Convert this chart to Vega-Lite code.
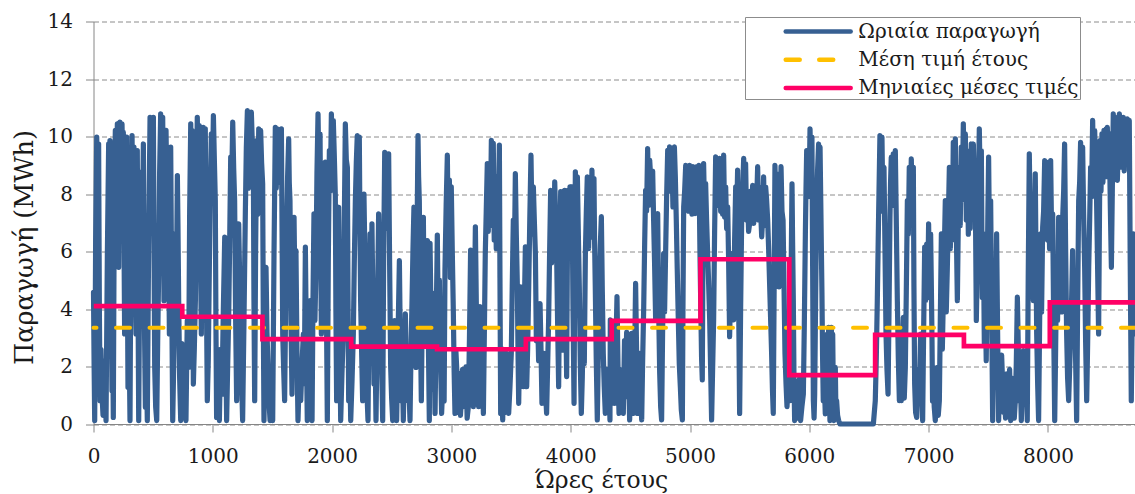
{
  "$schema": "https://vega.github.io/schema/vega-lite/v6.json",
  "width": 1041.5,
  "height": 402.5,
  "autosize": {"type": "none"},
  "padding": {"left": 93.5, "top": 21.5, "right": 0, "bottom": 70},
  "background": "white",
  "config": {
    "view": {"stroke": null},
    "font": "DejaVu Serif",
    "axis": {
      "labelFont": "DejaVu Serif", "labelFontSize": 20, "labelColor": "#1a1a1a",
      "titleFont": "DejaVu Serif", "titleFontWeight": "normal", "titleColor": "#1a1a1a",
      "domainColor": "#868686", "tickColor": "#868686", "tickSize": 8, "domainWidth": 1, "tickWidth": 1,
      "labelFlush": false, "labelOverlap": false
    }
  },
  "datasets": {
    "hourly": [
      {"hour":0,"mwh":4.58},{"hour":5,"mwh":2.1},{"hour":10,"mwh":0.12},{"hour":18,"mwh":6.4},{"hour":27,"mwh":9.98},{"hour":35,"mwh":7.2},{"hour":43,"mwh":9.74},{"hour":49,"mwh":4.1},{"hour":55,"mwh":0.81},{"hour":63,"mwh":2.6},
      {"hour":71,"mwh":1.04},{"hour":80,"mwh":0.3},{"hour":88,"mwh":0.81},{"hour":96,"mwh":2.2},{"hour":105,"mwh":0.12},{"hour":116,"mwh":5.8},{"hour":127,"mwh":9.74},{"hour":132,"mwh":7.9},{"hour":138,"mwh":9.86},{"hour":146,"mwh":6.1},
      {"hour":155,"mwh":1.16},{"hour":160,"mwh":3.4},{"hour":166,"mwh":0.23},{"hour":174,"mwh":7.6},{"hour":183,"mwh":10.21},{"hour":191,"mwh":8.4},{"hour":200,"mwh":10.44},{"hour":211,"mwh":5.45},{"hour":216,"mwh":9.1},{"hour":222,"mwh":10.5},
      {"hour":230,"mwh":8.2},{"hour":239,"mwh":10.44},{"hour":244,"mwh":9.3},{"hour":250,"mwh":10.15},{"hour":255,"mwh":6.8},{"hour":261,"mwh":3.13},{"hour":270,"mwh":7.9},{"hour":278,"mwh":9.98},{"hour":284,"mwh":5.2},{"hour":289,"mwh":1.28},
      {"hour":297,"mwh":3.5},{"hour":306,"mwh":0.12},{"hour":314,"mwh":6.9},{"hour":323,"mwh":10.03},{"hour":331,"mwh":7.1},{"hour":339,"mwh":9.63},{"hour":347,"mwh":5.9},{"hour":356,"mwh":3.13},{"hour":361,"mwh":6.8},{"hour":367,"mwh":9.51},
      {"hour":373,"mwh":4.6},{"hour":379,"mwh":0.12},{"hour":387,"mwh":5.4},{"hour":395,"mwh":8.76},{"hour":401,"mwh":6.9},{"hour":407,"mwh":4.29},{"hour":412,"mwh":7.5},{"hour":418,"mwh":9.74},{"hour":426,"mwh":3.9},{"hour":435,"mwh":0.58},
      {"hour":443,"mwh":2.4},{"hour":451,"mwh":0.12},{"hour":462,"mwh":6.2},{"hour":474,"mwh":10.67},{"hour":482,"mwh":8.1},{"hour":490,"mwh":10.61},{"hour":496,"mwh":7.4},{"hour":502,"mwh":10.67},{"hour":507,"mwh":6.3},{"hour":513,"mwh":1.97},
      {"hour":521,"mwh":0.6},{"hour":530,"mwh":0.12},{"hour":538,"mwh":2.9},{"hour":546,"mwh":5.22},{"hour":554,"mwh":8.7},{"hour":563,"mwh":10.79},{"hour":571,"mwh":8.6},{"hour":580,"mwh":10.67},{"hour":585,"mwh":7.9},{"hour":591,"mwh":4.29},
      {"hour":599,"mwh":7.2},{"hour":608,"mwh":10.21},{"hour":616,"mwh":7.6},{"hour":625,"mwh":9.51},{"hour":630,"mwh":6.4},{"hour":636,"mwh":3.13},{"hour":641,"mwh":6.7},{"hour":647,"mwh":9.63},{"hour":655,"mwh":4.8},{"hour":664,"mwh":0.12},
      {"hour":675,"mwh":2.7},{"hour":686,"mwh":6.61},{"hour":694,"mwh":4.2},{"hour":703,"mwh":8.64},{"hour":708,"mwh":6.9},{"hour":714,"mwh":4.29},{"hour":722,"mwh":1.6},{"hour":731,"mwh":0.12},{"hour":742,"mwh":2.8},{"hour":753,"mwh":1.04},
      {"hour":764,"mwh":2.3},{"hour":775,"mwh":0.12},{"hour":786,"mwh":3.6},{"hour":798,"mwh":1.97},{"hour":806,"mwh":7.4},{"hour":815,"mwh":10.44},{"hour":820,"mwh":8.1},{"hour":826,"mwh":10.21},{"hour":831,"mwh":6.2},{"hour":837,"mwh":1.39},
      {"hour":845,"mwh":2.6},{"hour":854,"mwh":4.29},{"hour":862,"mwh":7.8},{"hour":870,"mwh":10.67},{"hour":878,"mwh":8.6},{"hour":887,"mwh":10.38},{"hour":895,"mwh":6.5},{"hour":904,"mwh":3.13},{"hour":912,"mwh":7.7},{"hour":921,"mwh":10.32},
      {"hour":929,"mwh":7.9},{"hour":937,"mwh":10.27},{"hour":945,"mwh":5.2},{"hour":954,"mwh":0.81},{"hour":962,"mwh":2.2},{"hour":971,"mwh":5.45},{"hour":979,"mwh":8.1},{"hour":988,"mwh":10.09},{"hour":996,"mwh":8.3},{"hour":1005,"mwh":10.73},
      {"hour":1013,"mwh":9.2},{"hour":1021,"mwh":7.77},{"hour":1026,"mwh":3.6},{"hour":1032,"mwh":0.23},{"hour":1043,"mwh":2.1},{"hour":1055,"mwh":0.12},{"hour":1066,"mwh":2.6},{"hour":1077,"mwh":1.04},{"hour":1088,"mwh":3.9},{"hour":1100,"mwh":6.5},
      {"hour":1108,"mwh":2.8},{"hour":1116,"mwh":0.12},{"hour":1124,"mwh":1.9},{"hour":1133,"mwh":3.71},{"hour":1141,"mwh":6.2},{"hour":1150,"mwh":9.28},{"hour":1158,"mwh":8.3},{"hour":1167,"mwh":10.5},{"hour":1175,"mwh":8.9},{"hour":1183,"mwh":7.77},
      {"hour":1191,"mwh":3.8},{"hour":1200,"mwh":0.81},{"hour":1208,"mwh":3.2},{"hour":1217,"mwh":6.96},{"hour":1225,"mwh":5.1},{"hour":1234,"mwh":3.13},{"hour":1242,"mwh":1.4},{"hour":1250,"mwh":0.12},{"hour":1261,"mwh":3.5},{"hour":1273,"mwh":7.42},
      {"hour":1281,"mwh":9.6},{"hour":1290,"mwh":10.9},{"hour":1298,"mwh":8.2},{"hour":1306,"mwh":10.79},{"hour":1314,"mwh":8.7},{"hour":1323,"mwh":10.85},{"hour":1331,"mwh":9.8},{"hour":1340,"mwh":8.93},{"hour":1345,"mwh":4.3},{"hour":1351,"mwh":0.81},
      {"hour":1359,"mwh":6.1},{"hour":1368,"mwh":9.86},{"hour":1376,"mwh":7.3},{"hour":1385,"mwh":10.27},{"hour":1393,"mwh":8.5},{"hour":1401,"mwh":10.21},{"hour":1409,"mwh":9.1},{"hour":1418,"mwh":8.35},{"hour":1423,"mwh":3.9},{"hour":1429,"mwh":0.12},
      {"hour":1437,"mwh":2.3},{"hour":1446,"mwh":5.45},{"hour":1454,"mwh":3.2},{"hour":1463,"mwh":1.97},{"hour":1471,"mwh":0.8},{"hour":1480,"mwh":0.12},{"hour":1491,"mwh":1.6},{"hour":1502,"mwh":0.12},{"hour":1513,"mwh":5.9},{"hour":1524,"mwh":10.32},
      {"hour":1532,"mwh":8.2},{"hour":1541,"mwh":10.27},{"hour":1549,"mwh":8.8},{"hour":1558,"mwh":10.15},{"hour":1566,"mwh":8.4},{"hour":1575,"mwh":10.27},{"hour":1580,"mwh":7.1},{"hour":1586,"mwh":3.13},{"hour":1594,"mwh":1.9},{"hour":1602,"mwh":0.81},
      {"hour":1610,"mwh":3.9},{"hour":1619,"mwh":6.61},{"hour":1627,"mwh":8.6},{"hour":1636,"mwh":9.92},{"hour":1641,"mwh":8.4},{"hour":1647,"mwh":7.77},{"hour":1655,"mwh":3.6},{"hour":1664,"mwh":1.04},{"hour":1672,"mwh":4.6},{"hour":1681,"mwh":7.19},
      {"hour":1689,"mwh":4.4},{"hour":1697,"mwh":6.03},{"hour":1705,"mwh":2.7},{"hour":1714,"mwh":0.12},{"hour":1725,"mwh":1.7},{"hour":1737,"mwh":0.81},{"hour":1748,"mwh":2.1},{"hour":1759,"mwh":3.13},{"hour":1767,"mwh":1.4},{"hour":1776,"mwh":6.15},
      {"hour":1784,"mwh":2.9},{"hour":1792,"mwh":0.12},{"hour":1803,"mwh":2.6},{"hour":1815,"mwh":4.29},{"hour":1823,"mwh":1.8},{"hour":1832,"mwh":0.12},{"hour":1840,"mwh":4.4},{"hour":1848,"mwh":7.31},{"hour":1856,"mwh":3.6},{"hour":1865,"mwh":5.45},
      {"hour":1873,"mwh":8.7},{"hour":1882,"mwh":10.79},{"hour":1890,"mwh":8.6},{"hour":1899,"mwh":10.09},{"hour":1904,"mwh":6.6},{"hour":1910,"mwh":3.13},{"hour":1918,"mwh":5.2},{"hour":1927,"mwh":7.77},{"hour":1935,"mwh":5.9},{"hour":1943,"mwh":9.11},
      {"hour":1951,"mwh":4.8},{"hour":1960,"mwh":0.12},{"hour":1968,"mwh":5.6},{"hour":1977,"mwh":9.51},{"hour":1985,"mwh":8.1},{"hour":1994,"mwh":10.79},{"hour":2002,"mwh":8.9},{"hour":2010,"mwh":10.56},{"hour":2018,"mwh":9.4},{"hour":2027,"mwh":7.95},
      {"hour":2032,"mwh":3.9},{"hour":2038,"mwh":0.81},{"hour":2046,"mwh":4.1},{"hour":2055,"mwh":7.54},{"hour":2063,"mwh":3.6},{"hour":2072,"mwh":0.12},{"hour":2083,"mwh":1.8},{"hour":2094,"mwh":3.13},{"hour":2102,"mwh":6.9},{"hour":2111,"mwh":10.44},
      {"hour":2119,"mwh":9.2},{"hour":2128,"mwh":8.93},{"hour":2133,"mwh":4.6},{"hour":2139,"mwh":0.81},{"hour":2147,"mwh":2.5},{"hour":2156,"mwh":0.12},{"hour":2167,"mwh":1.5},{"hour":2178,"mwh":3.13},{"hour":2186,"mwh":5.6},{"hour":2195,"mwh":7.77},
      {"hour":2203,"mwh":9.1},{"hour":2211,"mwh":10.03},{"hour":2219,"mwh":7.6},{"hour":2228,"mwh":9.98},{"hour":2233,"mwh":7.1},{"hour":2239,"mwh":4.29},{"hour":2247,"mwh":2.6},{"hour":2256,"mwh":0.81},{"hour":2261,"mwh":4.9},{"hour":2267,"mwh":8.0},
      {"hour":2275,"mwh":5.8},{"hour":2284,"mwh":2.55},{"hour":2292,"mwh":1.1},{"hour":2301,"mwh":0.12},{"hour":2309,"mwh":3.8},{"hour":2318,"mwh":6.61},{"hour":2326,"mwh":3.9},{"hour":2334,"mwh":6.96},{"hour":2342,"mwh":4.2},{"hour":2351,"mwh":1.39},
      {"hour":2359,"mwh":2.9},{"hour":2368,"mwh":0.12},{"hour":2379,"mwh":3.7},{"hour":2390,"mwh":7.31},{"hour":2398,"mwh":5.6},{"hour":2407,"mwh":4.29},{"hour":2415,"mwh":2.1},{"hour":2424,"mwh":0.12},{"hour":2432,"mwh":5.7},{"hour":2441,"mwh":9.45},
      {"hour":2449,"mwh":6.8},{"hour":2457,"mwh":9.28},{"hour":2465,"mwh":7.2},{"hour":2474,"mwh":9.4},{"hour":2482,"mwh":5.6},{"hour":2491,"mwh":1.97},{"hour":2499,"mwh":0.9},{"hour":2508,"mwh":0.12},{"hour":2516,"mwh":1.9},{"hour":2524,"mwh":3.6},
      {"hour":2532,"mwh":1.4},{"hour":2541,"mwh":0.12},{"hour":2552,"mwh":2.9},{"hour":2564,"mwh":5.68},{"hour":2572,"mwh":2.7},{"hour":2580,"mwh":0.81},{"hour":2588,"mwh":2.2},{"hour":2597,"mwh":0.12},{"hour":2605,"mwh":1.8},{"hour":2614,"mwh":3.83},
      {"hour":2622,"mwh":2.1},{"hour":2631,"mwh":0.81},{"hour":2642,"mwh":1.5},{"hour":2653,"mwh":0.12},{"hour":2661,"mwh":2.4},{"hour":2670,"mwh":4.29},{"hour":2678,"mwh":6.1},{"hour":2686,"mwh":7.54},{"hour":2694,"mwh":4.4},{"hour":2703,"mwh":1.97},
      {"hour":2711,"mwh":6.2},{"hour":2720,"mwh":10.03},{"hour":2725,"mwh":8.6},{"hour":2731,"mwh":7.77},{"hour":2739,"mwh":3.8},{"hour":2748,"mwh":0.81},{"hour":2756,"mwh":4.1},{"hour":2765,"mwh":7.19},{"hour":2773,"mwh":3.4},{"hour":2781,"mwh":5.22},
      {"hour":2789,"mwh":2.7},{"hour":2798,"mwh":6.38},{"hour":2806,"mwh":3.2},{"hour":2815,"mwh":0.12},{"hour":2821,"mwh":6.28},{"hour":2828,"mwh":4.1},{"hour":2835,"mwh":2.46},{"hour":2842,"mwh":1.2},{"hour":2849,"mwh":4.54},{"hour":2856,"mwh":2.3},
      {"hour":2863,"mwh":0.37},{"hour":2872,"mwh":3.4},{"hour":2882,"mwh":6.57},{"hour":2890,"mwh":3.3},{"hour":2899,"mwh":5.01},{"hour":2908,"mwh":2.4},{"hour":2918,"mwh":0.37},{"hour":2925,"mwh":1.1},{"hour":2932,"mwh":2.46},{"hour":2939,"mwh":0.8},
      {"hour":2946,"mwh":5.35},{"hour":2956,"mwh":7.6},{"hour":2966,"mwh":9.35},{"hour":2974,"mwh":6.2},{"hour":2983,"mwh":8.48},{"hour":2991,"mwh":5.1},{"hour":2999,"mwh":8.25},{"hour":3007,"mwh":6.1},{"hour":3016,"mwh":3.96},{"hour":3023,"mwh":1.8},
      {"hour":3030,"mwh":0.37},{"hour":3037,"mwh":2.6},{"hour":3044,"mwh":1.99},{"hour":3055,"mwh":0.4},{"hour":3066,"mwh":1.76},{"hour":3076,"mwh":0.3},{"hour":3086,"mwh":1.07},{"hour":3093,"mwh":1.9},{"hour":3100,"mwh":0.6},{"hour":3111,"mwh":1.3},
      {"hour":3122,"mwh":1.99},{"hour":3132,"mwh":0.2},{"hour":3142,"mwh":0.6},{"hour":3151,"mwh":2.9},{"hour":3161,"mwh":6.05},{"hour":3172,"mwh":2.1},{"hour":3184,"mwh":0.6},{"hour":3192,"mwh":3.8},{"hour":3201,"mwh":6.86},{"hour":3209,"mwh":4.1},
      {"hour":3217,"mwh":2.46},{"hour":3228,"mwh":0.6},{"hour":3240,"mwh":4.08},{"hour":3248,"mwh":1.9},{"hour":3256,"mwh":3.85},{"hour":3262,"mwh":1.6},{"hour":3268,"mwh":0.37},{"hour":3276,"mwh":3.1},{"hour":3284,"mwh":5.93},{"hour":3292,"mwh":7.4},
      {"hour":3301,"mwh":9.06},{"hour":3309,"mwh":6.7},{"hour":3318,"mwh":8.6},{"hour":3326,"mwh":6.9},{"hour":3335,"mwh":9.87},{"hour":3343,"mwh":7.8},{"hour":3351,"mwh":9.76},{"hour":3359,"mwh":6.4},{"hour":3368,"mwh":8.25},{"hour":3376,"mwh":6.1},
      {"hour":3385,"mwh":8.6},{"hour":3393,"mwh":7.3},{"hour":3402,"mwh":9.7},{"hour":3407,"mwh":5.1},{"hour":3413,"mwh":0.37},{"hour":3421,"mwh":1.6},{"hour":3430,"mwh":0.14},{"hour":3438,"mwh":2.6},{"hour":3446,"mwh":1.3},{"hour":3454,"mwh":0.4},
      {"hour":3463,"mwh":2.46},{"hour":3471,"mwh":1.4},{"hour":3480,"mwh":0.37},{"hour":3491,"mwh":1.3},{"hour":3502,"mwh":2.46},{"hour":3510,"mwh":4.8},{"hour":3519,"mwh":7.09},{"hour":3527,"mwh":5.4},{"hour":3536,"mwh":8.71},{"hour":3544,"mwh":6.6},
      {"hour":3553,"mwh":4.77},{"hour":3558,"mwh":2.6},{"hour":3564,"mwh":0.72},{"hour":3572,"mwh":2.9},{"hour":3581,"mwh":4.77},{"hour":3592,"mwh":3.1},{"hour":3603,"mwh":1.3},{"hour":3611,"mwh":3.9},{"hour":3620,"mwh":6.16},{"hour":3625,"mwh":3.4},
      {"hour":3631,"mwh":1.3},{"hour":3639,"mwh":2.6},{"hour":3648,"mwh":4.77},{"hour":3657,"mwh":7.1},{"hour":3667,"mwh":9.35},{"hour":3677,"mwh":6.6},{"hour":3687,"mwh":8.25},{"hour":3695,"mwh":7.1},{"hour":3704,"mwh":5.93},{"hour":3712,"mwh":2.9},
      {"hour":3720,"mwh":4.19},{"hour":3731,"mwh":2.2},{"hour":3743,"mwh":4.19},{"hour":3751,"mwh":2.6},{"hour":3759,"mwh":0.72},{"hour":3767,"mwh":1.4},{"hour":3776,"mwh":2.46},{"hour":3787,"mwh":1.3},{"hour":3798,"mwh":0.37},{"hour":3806,"mwh":1.9},
      {"hour":3815,"mwh":3.62},{"hour":3823,"mwh":5.9},{"hour":3832,"mwh":8.13},{"hour":3840,"mwh":5.6},{"hour":3849,"mwh":7.9},{"hour":3857,"mwh":6.1},{"hour":3866,"mwh":8.42},{"hour":3874,"mwh":7.1},{"hour":3882,"mwh":5.93},{"hour":3890,"mwh":3.6},
      {"hour":3899,"mwh":1.3},{"hour":3907,"mwh":5.2},{"hour":3916,"mwh":8.08},{"hour":3924,"mwh":5.4},{"hour":3933,"mwh":2.57},{"hour":3941,"mwh":5.6},{"hour":3949,"mwh":8.13},{"hour":3957,"mwh":4.4},{"hour":3966,"mwh":1.65},{"hour":3971,"mwh":5.1},
      {"hour":3977,"mwh":8.13},{"hour":3985,"mwh":6.4},{"hour":3994,"mwh":8.25},{"hour":4002,"mwh":5.9},{"hour":4011,"mwh":8.25},{"hour":4019,"mwh":4.1},{"hour":4028,"mwh":0.72},{"hour":4033,"mwh":4.9},{"hour":4039,"mwh":8.77},{"hour":4047,"mwh":7.2},
      {"hour":4056,"mwh":8.6},{"hour":4064,"mwh":6.6},{"hour":4072,"mwh":4.77},{"hour":4080,"mwh":2.2},{"hour":4089,"mwh":0.37},{"hour":4097,"mwh":1.6},{"hour":4106,"mwh":3.62},{"hour":4114,"mwh":2.1},{"hour":4123,"mwh":5.93},{"hour":4131,"mwh":7.4},
      {"hour":4139,"mwh":8.6},{"hour":4150,"mwh":6.1},{"hour":4162,"mwh":8.25},{"hour":4170,"mwh":6.9},{"hour":4178,"mwh":8.83},{"hour":4186,"mwh":6.5},{"hour":4195,"mwh":8.54},{"hour":4200,"mwh":6.4},{"hour":4206,"mwh":4.77},{"hour":4214,"mwh":2.3},
      {"hour":4223,"mwh":0.14},{"hour":4231,"mwh":2.4},{"hour":4240,"mwh":4.77},{"hour":4248,"mwh":6.2},{"hour":4257,"mwh":7.21},{"hour":4265,"mwh":4.6},{"hour":4273,"mwh":2.46},{"hour":4281,"mwh":1.3},{"hour":4290,"mwh":0.37},{"hour":4302,"mwh":1.9},
      {"hour":4315,"mwh":0.6},{"hour":4322,"mwh":1.5},{"hour":4329,"mwh":0.14},{"hour":4332,"mwh":3.62},{"hour":4340,"mwh":2.6},{"hour":4349,"mwh":1.76},{"hour":4357,"mwh":3.1},{"hour":4366,"mwh":0.72},{"hour":4377,"mwh":2.3},{"hour":4388,"mwh":4.43},
      {"hour":4396,"mwh":2.1},{"hour":4405,"mwh":0.37},{"hour":4413,"mwh":1.1},{"hour":4421,"mwh":1.88},{"hour":4431,"mwh":0.6},{"hour":4441,"mwh":0.37},{"hour":4451,"mwh":2.9},{"hour":4461,"mwh":1.99},{"hour":4469,"mwh":3.2},{"hour":4477,"mwh":0.95},
      {"hour":4485,"mwh":1.9},{"hour":4494,"mwh":0.14},{"hour":4502,"mwh":1.6},{"hour":4511,"mwh":3.15},{"hour":4519,"mwh":1.4},{"hour":4528,"mwh":0.37},{"hour":4536,"mwh":2.4},{"hour":4544,"mwh":4.89},{"hour":4552,"mwh":2.6},{"hour":4561,"mwh":0.37},
      {"hour":4569,"mwh":1.2},{"hour":4578,"mwh":2.46},{"hour":4586,"mwh":1.1},{"hour":4595,"mwh":0.14},{"hour":4603,"mwh":2.2},{"hour":4612,"mwh":4.08},{"hour":4620,"mwh":6.3},{"hour":4628,"mwh":8.13},{"hour":4636,"mwh":7.4},{"hour":4645,"mwh":9.58},
      {"hour":4653,"mwh":7.6},{"hour":4662,"mwh":9.18},{"hour":4670,"mwh":8.6},{"hour":4679,"mwh":7.79},{"hour":4687,"mwh":8.8},{"hour":4695,"mwh":7.09},{"hour":4703,"mwh":5.6},{"hour":4712,"mwh":3.62},{"hour":4720,"mwh":5.1},{"hour":4729,"mwh":7.32},
      {"hour":4737,"mwh":4.1},{"hour":4746,"mwh":1.76},{"hour":4754,"mwh":0.6},{"hour":4762,"mwh":0.14},{"hour":4770,"mwh":3.1},{"hour":4779,"mwh":5.93},{"hour":4787,"mwh":3.9},{"hour":4796,"mwh":6.05},{"hour":4804,"mwh":7.9},{"hour":4813,"mwh":9.52},
      {"hour":4821,"mwh":8.2},{"hour":4829,"mwh":9.64},{"hour":4837,"mwh":8.1},{"hour":4846,"mwh":9.52},{"hour":4851,"mwh":8.8},{"hour":4857,"mwh":7.55},{"hour":4863,"mwh":8.9},{"hour":4869,"mwh":9.64},{"hour":4877,"mwh":8.6},{"hour":4885,"mwh":7.09},
      {"hour":4893,"mwh":5.4},{"hour":4902,"mwh":3.62},{"hour":4910,"mwh":2.1},{"hour":4919,"mwh":1.3},{"hour":4927,"mwh":0.5},{"hour":4936,"mwh":0.14},{"hour":4941,"mwh":4.1},{"hour":4947,"mwh":7.55},{"hour":4955,"mwh":8.1},{"hour":4964,"mwh":9.0},
      {"hour":4972,"mwh":7.6},{"hour":4980,"mwh":8.83},{"hour":4988,"mwh":7.4},{"hour":4997,"mwh":9.0},{"hour":5002,"mwh":7.9},{"hour":5008,"mwh":8.71},{"hour":5016,"mwh":7.3},{"hour":5025,"mwh":8.95},{"hour":5033,"mwh":8.1},{"hour":5042,"mwh":7.32},
      {"hour":5050,"mwh":8.4},{"hour":5059,"mwh":8.95},{"hour":5067,"mwh":7.6},{"hour":5075,"mwh":9.0},{"hour":5083,"mwh":6.1},{"hour":5092,"mwh":3.62},{"hour":5097,"mwh":2.3},{"hour":5103,"mwh":1.53},{"hour":5108,"mwh":5.6},{"hour":5114,"mwh":9.06},
      {"hour":5122,"mwh":7.4},{"hour":5131,"mwh":8.37},{"hour":5139,"mwh":7.1},{"hour":5148,"mwh":5.93},{"hour":5156,"mwh":4.9},{"hour":5165,"mwh":3.62},{"hour":5173,"mwh":1.9},{"hour":5181,"mwh":0.14},{"hour":5189,"mwh":1.8},{"hour":5198,"mwh":3.62},
      {"hour":5206,"mwh":6.6},{"hour":5215,"mwh":9.29},{"hour":5223,"mwh":7.9},{"hour":5232,"mwh":9.06},{"hour":5240,"mwh":7.6},{"hour":5249,"mwh":9.24},{"hour":5257,"mwh":7.4},{"hour":5265,"mwh":8.25},{"hour":5273,"mwh":7.3},{"hour":5282,"mwh":9.35},
      {"hour":5290,"mwh":7.2},{"hour":5299,"mwh":8.25},{"hour":5307,"mwh":6.8},{"hour":5316,"mwh":7.55},{"hour":5324,"mwh":5.6},{"hour":5332,"mwh":3.04},{"hour":5340,"mwh":4.6},{"hour":5349,"mwh":5.93},{"hour":5357,"mwh":4.4},{"hour":5366,"mwh":3.62},
      {"hour":5374,"mwh":6.4},{"hour":5383,"mwh":8.25},{"hour":5391,"mwh":7.1},{"hour":5399,"mwh":8.83},{"hour":5407,"mwh":4.6},{"hour":5416,"mwh":0.37},{"hour":5424,"mwh":3.9},{"hour":5433,"mwh":7.09},{"hour":5441,"mwh":8.1},{"hour":5450,"mwh":9.24},
      {"hour":5458,"mwh":7.6},{"hour":5466,"mwh":9.06},{"hour":5474,"mwh":7.1},{"hour":5483,"mwh":7.9},{"hour":5491,"mwh":6.7},{"hour":5500,"mwh":6.98},{"hour":5508,"mwh":8.1},{"hour":5517,"mwh":7.32},{"hour":5525,"mwh":8.3},{"hour":5534,"mwh":6.98},
      {"hour":5542,"mwh":8.2},{"hour":5550,"mwh":7.32},{"hour":5558,"mwh":7.6},{"hour":5567,"mwh":8.95},{"hour":5575,"mwh":7.1},{"hour":5584,"mwh":8.25},{"hour":5592,"mwh":7.4},{"hour":5601,"mwh":6.51},{"hour":5609,"mwh":7.2},{"hour":5617,"mwh":8.6},
      {"hour":5625,"mwh":6.9},{"hour":5634,"mwh":8.25},{"hour":5642,"mwh":7.8},{"hour":5651,"mwh":7.09},{"hour":5659,"mwh":6.1},{"hour":5668,"mwh":4.77},{"hour":5676,"mwh":3.6},{"hour":5684,"mwh":2.46},{"hour":5691,"mwh":1.2},{"hour":5698,"mwh":0.37},
      {"hour":5705,"mwh":4.6},{"hour":5712,"mwh":9.0},{"hour":5720,"mwh":7.6},{"hour":5729,"mwh":8.71},{"hour":5737,"mwh":6.3},{"hour":5746,"mwh":4.77},{"hour":5754,"mwh":6.9},{"hour":5763,"mwh":8.95},{"hour":5771,"mwh":7.4},{"hour":5780,"mwh":7.09},
      {"hour":5788,"mwh":4.8},{"hour":5796,"mwh":2.46},{"hour":5805,"mwh":1.39},{"hour":5813,"mwh":0.6},{"hour":5821,"mwh":1.28},{"hour":5829,"mwh":1.9},{"hour":5838,"mwh":0.81},{"hour":5846,"mwh":4.6},{"hour":5855,"mwh":8.35},{"hour":5860,"mwh":6.3},
      {"hour":5866,"mwh":4.29},{"hour":5871,"mwh":1.8},{"hour":5877,"mwh":0.12},{"hour":5885,"mwh":1.5},{"hour":5894,"mwh":0.81},{"hour":5902,"mwh":0.2},{"hour":5911,"mwh":1.04},{"hour":5919,"mwh":1.6},{"hour":5927,"mwh":0.12},{"hour":5938,"mwh":0.6},
      {"hour":5950,"mwh":1.04},{"hour":5958,"mwh":3.4},{"hour":5967,"mwh":6.61},{"hour":5972,"mwh":8.1},{"hour":5978,"mwh":9.51},{"hour":5986,"mwh":7.9},{"hour":5995,"mwh":9.51},{"hour":6000,"mwh":8.6},{"hour":6006,"mwh":10.27},{"hour":6014,"mwh":8.7},
      {"hour":6022,"mwh":9.98},{"hour":6028,"mwh":5.4},{"hour":6034,"mwh":0.81},{"hour":6040,"mwh":0.2},{"hour":6045,"mwh":1.04},{"hour":6053,"mwh":4.4},{"hour":6062,"mwh":7.77},{"hour":6070,"mwh":8.9},{"hour":6078,"mwh":9.74},{"hour":6084,"mwh":8.4},
      {"hour":6090,"mwh":9.63},{"hour":6098,"mwh":7.1},{"hour":6106,"mwh":4.52},{"hour":6111,"mwh":2.4},{"hour":6117,"mwh":0.81},{"hour":6125,"mwh":1.6},{"hour":6134,"mwh":0.35},{"hour":6142,"mwh":1.2},{"hour":6151,"mwh":3.13},{"hour":6156,"mwh":1.4},
      {"hour":6162,"mwh":3.36},{"hour":6167,"mwh":1.6},{"hour":6173,"mwh":0.12},{"hour":6179,"mwh":1.4},{"hour":6185,"mwh":3.36},{"hour":6190,"mwh":1.7},{"hour":6196,"mwh":3.13},{"hour":6201,"mwh":1.2},{"hour":6207,"mwh":0.12},{"hour":6212,"mwh":0.9},
      {"hour":6218,"mwh":1.97},{"hour":6223,"mwh":0.4},{"hour":6229,"mwh":0.81},{"hour":6237,"mwh":0.3},{"hour":6246,"mwh":0.12},{"hour":6257,"mwh":0},{"hour":6537,"mwh":0},{"hour":6553,"mwh":0.81},{"hour":6561,"mwh":2.2},{"hour":6570,"mwh":4.29},
      {"hour":6581,"mwh":7.3},{"hour":6592,"mwh":10.03},{"hour":6600,"mwh":8.1},{"hour":6609,"mwh":9.98},{"hour":6617,"mwh":7.4},{"hour":6626,"mwh":8.93},{"hour":6634,"mwh":6.2},{"hour":6643,"mwh":3.13},{"hour":6651,"mwh":1.9},{"hour":6660,"mwh":1.04},
      {"hour":6668,"mwh":3.9},{"hour":6676,"mwh":7.19},{"hour":6681,"mwh":8.4},{"hour":6687,"mwh":9.28},{"hour":6695,"mwh":7.6},{"hour":6704,"mwh":9.4},{"hour":6712,"mwh":7.9},{"hour":6721,"mwh":9.51},{"hour":6729,"mwh":7.1},{"hour":6738,"mwh":4.29},
      {"hour":6746,"mwh":2.3},{"hour":6755,"mwh":0.81},{"hour":6763,"mwh":2.1},{"hour":6771,"mwh":0.81},{"hour":6779,"mwh":2.4},{"hour":6788,"mwh":3.71},{"hour":6796,"mwh":0.9},{"hour":6805,"mwh":1.97},{"hour":6813,"mwh":4.6},{"hour":6822,"mwh":7.77},
      {"hour":6830,"mwh":6.6},{"hour":6838,"mwh":8.93},{"hour":6846,"mwh":7.4},{"hour":6855,"mwh":9.22},{"hour":6863,"mwh":7.1},{"hour":6872,"mwh":8.93},{"hour":6877,"mwh":4.8},{"hour":6883,"mwh":1.39},{"hour":6891,"mwh":0.4},{"hour":6900,"mwh":0.23},
      {"hour":6908,"mwh":1.9},{"hour":6917,"mwh":0.81},{"hour":6925,"mwh":1.6},{"hour":6933,"mwh":3.13},{"hour":6941,"mwh":1.2},{"hour":6950,"mwh":0.12},{"hour":6958,"mwh":3.1},{"hour":6967,"mwh":6.15},{"hour":6975,"mwh":4.3},{"hour":6984,"mwh":6.26},
      {"hour":6992,"mwh":4.4},{"hour":7000,"mwh":6.96},{"hour":7008,"mwh":4.9},{"hour":7017,"mwh":6.61},{"hour":7022,"mwh":5.1},{"hour":7028,"mwh":3.13},{"hour":7033,"mwh":0.8},{"hour":7039,"mwh":1.97},{"hour":7047,"mwh":0.6},{"hour":7056,"mwh":0.12},
      {"hour":7064,"mwh":0.9},{"hour":7073,"mwh":1.97},{"hour":7081,"mwh":0.3},{"hour":7090,"mwh":0.81},{"hour":7098,"mwh":3.6},{"hour":7107,"mwh":6.61},{"hour":7115,"mwh":2.6},{"hour":7123,"mwh":4.29},{"hour":7131,"mwh":5.9},{"hour":7140,"mwh":7.77},
      {"hour":7148,"mwh":3.9},{"hour":7157,"mwh":5.45},{"hour":7165,"mwh":7.1},{"hour":7174,"mwh":8.93},{"hour":7182,"mwh":6.1},{"hour":7190,"mwh":7.77},{"hour":7198,"mwh":6.4},{"hour":7207,"mwh":9.8},{"hour":7215,"mwh":7.4},{"hour":7224,"mwh":9.92},
      {"hour":7232,"mwh":6.8},{"hour":7241,"mwh":4.29},{"hour":7249,"mwh":7.1},{"hour":7257,"mwh":8.93},{"hour":7265,"mwh":6.9},{"hour":7274,"mwh":9.63},{"hour":7282,"mwh":7.8},{"hour":7291,"mwh":10.44},{"hour":7299,"mwh":7.9},{"hour":7308,"mwh":10.09},
      {"hour":7316,"mwh":7.1},{"hour":7325,"mwh":9.51},{"hour":7333,"mwh":6.6},{"hour":7341,"mwh":8.93},{"hour":7349,"mwh":6.8},{"hour":7358,"mwh":9.74},{"hour":7366,"mwh":7.2},{"hour":7375,"mwh":9.74},{"hour":7383,"mwh":8.1},{"hour":7392,"mwh":7.77},
      {"hour":7400,"mwh":3.6},{"hour":7408,"mwh":5.45},{"hour":7416,"mwh":7.9},{"hour":7425,"mwh":10.27},{"hour":7433,"mwh":8.2},{"hour":7442,"mwh":9.51},{"hour":7450,"mwh":4.4},{"hour":7459,"mwh":6.61},{"hour":7467,"mwh":2.8},{"hour":7475,"mwh":4.29},
      {"hour":7483,"mwh":2.2},{"hour":7492,"mwh":5.45},{"hour":7497,"mwh":7.4},{"hour":7503,"mwh":9.28},{"hour":7511,"mwh":5.9},{"hour":7520,"mwh":7.77},{"hour":7528,"mwh":4.1},{"hour":7537,"mwh":0.12},{"hour":7545,"mwh":2.9},{"hour":7554,"mwh":5.45},
      {"hour":7562,"mwh":3.1},{"hour":7570,"mwh":6.61},{"hour":7578,"mwh":3.3},{"hour":7587,"mwh":0.12},{"hour":7595,"mwh":1.6},{"hour":7604,"mwh":0.81},{"hour":7612,"mwh":2.4},{"hour":7621,"mwh":1.39},{"hour":7629,"mwh":0.4},{"hour":7637,"mwh":0.81},
      {"hour":7645,"mwh":0.2},{"hour":7654,"mwh":1.74},{"hour":7662,"mwh":0.5},{"hour":7671,"mwh":0.81},{"hour":7679,"mwh":1.9},{"hour":7688,"mwh":0.12},{"hour":7699,"mwh":1.6},{"hour":7710,"mwh":1.04},{"hour":7718,"mwh":0.2},{"hour":7727,"mwh":0.81},
      {"hour":7735,"mwh":2.1},{"hour":7744,"mwh":4.41},{"hour":7752,"mwh":2.6},{"hour":7760,"mwh":0.81},{"hour":7768,"mwh":1.8},{"hour":7777,"mwh":0.12},{"hour":7785,"mwh":1.1},{"hour":7794,"mwh":2.55},{"hour":7802,"mwh":1.6},{"hour":7811,"mwh":0.81},
      {"hour":7819,"mwh":1.9},{"hour":7827,"mwh":0.12},{"hour":7835,"mwh":5.1},{"hour":7844,"mwh":9.4},{"hour":7852,"mwh":6.9},{"hour":7861,"mwh":7.77},{"hour":7869,"mwh":5.8},{"hour":7878,"mwh":4.29},{"hour":7886,"mwh":6.2},{"hour":7894,"mwh":8.7},
      {"hour":7900,"mwh":5.9},{"hour":7906,"mwh":3.13},{"hour":7914,"mwh":1.4},{"hour":7922,"mwh":0.12},{"hour":7930,"mwh":3.3},{"hour":7939,"mwh":6.61},{"hour":7947,"mwh":3.9},{"hour":7956,"mwh":6.84},{"hour":7964,"mwh":7.4},{"hour":7973,"mwh":9.16},
      {"hour":7981,"mwh":6.9},{"hour":7989,"mwh":9.11},{"hour":7997,"mwh":6.4},{"hour":8006,"mwh":7.77},{"hour":8014,"mwh":6.1},{"hour":8023,"mwh":9.16},{"hour":8031,"mwh":6.6},{"hour":8040,"mwh":7.31},{"hour":8048,"mwh":3.6},{"hour":8057,"mwh":0.12},
      {"hour":8065,"mwh":2.7},{"hour":8073,"mwh":5.45},{"hour":8081,"mwh":3.6},{"hour":8090,"mwh":7.19},{"hour":8098,"mwh":4.4},{"hour":8107,"mwh":6.26},{"hour":8115,"mwh":3.9},{"hour":8124,"mwh":7.19},{"hour":8132,"mwh":8.1},{"hour":8140,"mwh":9.74},
      {"hour":8148,"mwh":6.3},{"hour":8157,"mwh":3.13},{"hour":8165,"mwh":1.6},{"hour":8174,"mwh":0.81},{"hour":8182,"mwh":1.9},{"hour":8191,"mwh":3.13},{"hour":8199,"mwh":4.4},{"hour":8207,"mwh":6.03},{"hour":8215,"mwh":2.9},{"hour":8224,"mwh":4.64},
      {"hour":8232,"mwh":2.3},{"hour":8241,"mwh":0.12},{"hour":8249,"mwh":4.1},{"hour":8258,"mwh":7.77},{"hour":8266,"mwh":8.4},{"hour":8274,"mwh":9.8},{"hour":8282,"mwh":7.6},{"hour":8291,"mwh":9.63},{"hour":8299,"mwh":7.4},{"hour":8308,"mwh":5.45},
      {"hour":8316,"mwh":2.9},{"hour":8325,"mwh":0.81},{"hour":8333,"mwh":2.8},{"hour":8342,"mwh":5.45},{"hour":8350,"mwh":7.1},{"hour":8358,"mwh":8.93},{"hour":8366,"mwh":7.9},{"hour":8375,"mwh":10.56},{"hour":8383,"mwh":8.6},{"hour":8392,"mwh":10.21},
      {"hour":8400,"mwh":8.9},{"hour":8408,"mwh":7.77},{"hour":8416,"mwh":5.6},{"hour":8425,"mwh":3.13},{"hour":8431,"mwh":6.6},{"hour":8437,"mwh":9.86},{"hour":8445,"mwh":8.1},{"hour":8453,"mwh":10.09},{"hour":8461,"mwh":8.4},{"hour":8470,"mwh":10.21},
      {"hour":8478,"mwh":8.9},{"hour":8487,"mwh":10.27},{"hour":8492,"mwh":8.6},{"hour":8498,"mwh":10.32},{"hour":8506,"mwh":8.7},{"hour":8515,"mwh":10.09},{"hour":8523,"mwh":7.6},{"hour":8532,"mwh":5.45},{"hour":8540,"mwh":8.2},{"hour":8548,"mwh":10.79},
      {"hour":8556,"mwh":9.1},{"hour":8565,"mwh":10.67},{"hour":8573,"mwh":9.4},{"hour":8582,"mwh":8.47},{"hour":8590,"mwh":9.6},{"hour":8599,"mwh":10.79},{"hour":8607,"mwh":9.9},{"hour":8615,"mwh":8.93},{"hour":8623,"mwh":9.8},{"hour":8632,"mwh":10.67},
      {"hour":8640,"mwh":8.8},{"hour":8649,"mwh":10.09},{"hour":8657,"mwh":9.1},{"hour":8666,"mwh":10.61},{"hour":8674,"mwh":9.4},{"hour":8682,"mwh":10.56},{"hour":8690,"mwh":5.6},{"hour":8699,"mwh":0.81},{"hour":8707,"mwh":3.9},{"hour":8716,"mwh":6.61},
      {"hour":8723,"mwh":4.4},{"hour":8730,"mwh":3.13}
    ],
    "monthly": [
      {"hour":0,"mwh":4.10},{"hour":744,"mwh":3.73},{"hour":1416,"mwh":2.95},{"hour":2160,"mwh":2.69},{"hour":2880,"mwh":2.60},{"hour":3624,"mwh":2.95},
      {"hour":4344,"mwh":3.59},{"hour":5088,"mwh":5.73},{"hour":5832,"mwh":1.70},{"hour":6552,"mwh":3.10},{"hour":7296,"mwh":2.71},{"hour":8016,"mwh":4.23},{"hour":8760,"mwh":4.23}
    ],
    "annual": [{"mwh": 3.35}]
  },
  "layer": [
    {
      "data": {"name": "hourly"},
      "mark": {"type": "line", "strokeWidth": 5.2, "strokeJoin": "round", "strokeCap": "round"},
      "encoding": {
        "x": {
          "field": "hour", "type": "quantitative",
          "scale": {"domain": [0, 8730], "nice": false, "zero": false},
          "axis": {
            "values": [0, 1000, 2000, 3000, 4000, 5000, 6000, 7000, 8000], "format": "d", "grid": false,
            "labelPadding": 14, "title": "Ώρες έτους", "titleFontSize": 23.5, "titleX": 507.5, "titleY": 63.5,
            "titleBaseline": "alphabetic", "titleAlign": "center", "titleAnchor": null
          }
        },
        "y": {
          "field": "mwh", "type": "quantitative",
          "scale": {"domain": [0, 14], "nice": false},
          "axis": {
            "values": [0, 2, 4, 6, 8, 10, 12, 14], "grid": true, "gridDash": [5, 3], "gridColor": "#8c8c8c", "gridWidth": 1,
            "labelPadding": 13, "title": "Παραγωγή (MWh)", "titleFontSize": 25.5, "titleX": -61.5, "titleY": 225.5,
            "titleBaseline": "alphabetic", "titleAlign": "center", "titleAngle": 270
          }
        },
        "color": {
          "datum": "Ωριαία παραγωγή", "type": "nominal",
          "scale": {"domain": ["Ωριαία παραγωγή", "Μέση τιμή έτους", "Μηνιαίες μέσες τιμές"], "range": ["#376092", "#FFC000", "#FF0066"]},
          "legend": {
            "title": null, "orient": "none", "legendX": 651.5, "legendY": -4.5,
            "symbolType": "M-3,0H3", "symbolSize": 469, "symbolStrokeWidth": 4.5,
            "symbolOffset": 58.7, "labelOffset": 26.6, "padding": 1, "rowPadding": 4.2,
            "labelFont": "DejaVu Serif", "labelFontSize": 20, "labelColor": "#1a1a1a", "labelLimit": 400,
            "labelExpr": "datum.label + '\u00a0\u00a0\u00a0\u00a0\u00a0'",
            "fillColor": "white", "strokeColor": "#8c8c8c",
            "encode": {"symbols": {"update": {
              "strokeDash": {"signal": "datum.value === 'Μέση τιμή έτους' ? [14, 19.5] : null"},
              "strokeCap": {"value": "round"}
            }}}
          }
        }
      }
    },
    {
      "data": {"name": "annual"},
      "mark": {"type": "rule", "strokeWidth": 4, "strokeDash": [14, 19.5], "strokeCap": "round"},
      "encoding": {
        "y": {"field": "mwh", "type": "quantitative"},
        "color": {
          "datum": "Μέση τιμή έτους", "type": "nominal",
          "scale": {"domain": ["Ωριαία παραγωγή", "Μέση τιμή έτους", "Μηνιαίες μέσες τιμές"], "range": ["#376092", "#FFC000", "#FF0066"]},
          "legend": {
            "title": null, "orient": "none", "legendX": 651.5, "legendY": -4.5,
            "symbolType": "M-3,0H3", "symbolSize": 469, "symbolStrokeWidth": 4.5,
            "symbolOffset": 58.7, "labelOffset": 26.6, "padding": 1, "rowPadding": 4.2,
            "labelFont": "DejaVu Serif", "labelFontSize": 20, "labelColor": "#1a1a1a", "labelLimit": 400,
            "labelExpr": "datum.label + '\u00a0\u00a0\u00a0\u00a0\u00a0'",
            "fillColor": "white", "strokeColor": "#8c8c8c",
            "encode": {"symbols": {"update": {
              "strokeDash": {"signal": "datum.value === 'Μέση τιμή έτους' ? [14, 19.5] : null"},
              "strokeCap": {"value": "round"}
            }}}
          }
        }
      }
    },
    {
      "data": {"name": "monthly"},
      "mark": {"type": "line", "interpolate": "step-after", "strokeWidth": 4.7, "clip": true},
      "encoding": {
        "x": {"field": "hour", "type": "quantitative"},
        "y": {"field": "mwh", "type": "quantitative"},
        "color": {
          "datum": "Μηνιαίες μέσες τιμές", "type": "nominal",
          "scale": {"domain": ["Ωριαία παραγωγή", "Μέση τιμή έτους", "Μηνιαίες μέσες τιμές"], "range": ["#376092", "#FFC000", "#FF0066"]},
          "legend": {
            "title": null, "orient": "none", "legendX": 651.5, "legendY": -4.5,
            "symbolType": "M-3,0H3", "symbolSize": 469, "symbolStrokeWidth": 4.5,
            "symbolOffset": 58.7, "labelOffset": 26.6, "padding": 1, "rowPadding": 4.2,
            "labelFont": "DejaVu Serif", "labelFontSize": 20, "labelColor": "#1a1a1a", "labelLimit": 400,
            "labelExpr": "datum.label + '\u00a0\u00a0\u00a0\u00a0\u00a0'",
            "fillColor": "white", "strokeColor": "#8c8c8c",
            "encode": {"symbols": {"update": {
              "strokeDash": {"signal": "datum.value === 'Μέση τιμή έτους' ? [14, 19.5] : null"},
              "strokeCap": {"value": "round"}
            }}}
          }
        }
      }
    }
  ]
}
